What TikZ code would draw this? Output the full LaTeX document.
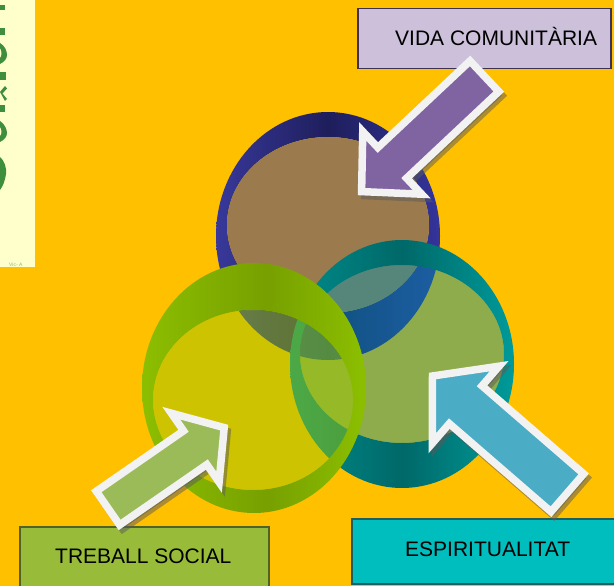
\documentclass[tikz,border=0pt]{standalone}
\usepackage{fontspec}
\setmainfont{Liberation Sans}
\definecolor{bgorange}{HTML}{FFC000}
\definecolor{paleyellow}{HTML}{FFFFCC}
\definecolor{glyphgreen}{HTML}{3E8E3E}
\definecolor{blueL}{HTML}{38389A}
\definecolor{blueD}{HTML}{1E1E5C}
\definecolor{blueR}{HTML}{34349A}
\definecolor{tealL}{HTML}{008C8C}
\definecolor{tealD}{HTML}{006868}
\definecolor{tealR}{HTML}{009A9A}
\definecolor{greenL}{HTML}{8CBE00}
\definecolor{greenD}{HTML}{77A000}
\definecolor{greenR}{HTML}{8CBF00}
\definecolor{browninner}{HTML}{9B7B4E}
\definecolor{tealinner}{HTML}{0094B1}
\definecolor{yellowinner}{HTML}{9DC800}
\definecolor{arrowwhite}{HTML}{F2F2F2}
\definecolor{shadowgrey}{HTML}{5A5A5A}
\definecolor{arrowpurple}{HTML}{8064A2}
\definecolor{arrowgreen}{HTML}{9BBB59}
\definecolor{arrowteal}{HTML}{4BACC6}
\definecolor{vidafill}{HTML}{CCC0DA}
\definecolor{vidaline}{HTML}{3F3151}
\definecolor{trebfill}{HTML}{98BC3A}
\definecolor{trebline}{HTML}{4F6228}
\definecolor{espfill}{HTML}{00BEBE}
\definecolor{espline}{HTML}{205D5D}
\pgfdeclarehorizontalshading{blueband}{100bp}{color(0bp)=(blueL); color(25bp)=(blueL); color(50bp)=(blueD); color(75bp)=(blueR); color(100bp)=(blueR)}
\pgfdeclarehorizontalshading{tealband}{100bp}{color(0bp)=(tealL); color(25bp)=(tealL); color(50bp)=(tealD); color(75bp)=(tealR); color(100bp)=(tealR)}
\pgfdeclarehorizontalshading{greenband}{100bp}{color(0bp)=(greenL); color(25bp)=(greenL); color(53bp)=(greenD); color(75bp)=(greenR); color(100bp)=(greenR)}
% #1,#2 tip (centre line), #3 rotation, #4 shaft half width, #5 head half width, #6 head length, #7 total length, #8 fill colour
\newcommand\BlockArrow[8]{%
  \begin{scope}[shift={(#1+3,#2+4)},rotate=#3]
    \filldraw[arrowshadow] (0,0) -- (-#6,#5) -- (-#6,#4) -- (-#7,#4) -- (-#7,-#4) -- (-#6,-#4) -- (-#6,-#5) -- cycle;
  \end{scope}
  \begin{scope}[shift={(#1,#2)},rotate=#3]
    \filldraw[arrowbody,fill=#8] (0,0) -- (-#6,#5) -- (-#6,#4) -- (-#7,#4) -- (-#7,-#4) -- (-#6,-#4) -- (-#6,-#5) -- cycle;
  \end{scope}}
\begin{document}
\begin{tikzpicture}[x=1pt,y=-1pt,
  arrowbody/.style={draw=arrowwhite, line width=7.5pt, line join=miter},
  arrowshadow/.style={fill=shadowgrey, draw=shadowgrey, line width=7.5pt, line join=miter, opacity=0.5},
  labelbox/.style={rectangle, line width=1.5pt, inner sep=0pt, anchor=north west},
  labeltext/.style={inner sep=0pt, anchor=base west, font=\fontsize{21}{25}\selectfont, text=black}]
\useasboundingbox (0,0) rectangle (614,586);
\fill[bgorange] (0,0) rectangle (614,586);
% pale panel at top left
\fill[paleyellow] (0,0) rectangle (35,267);
\fill[glyphgreen] (0,5) rectangle (5,10);
\fill[glyphgreen] (0,28) rectangle (5,35);
\fill[glyphgreen] (0,43) .. controls (5,46) and (7,51) .. (7,55) .. controls (7,59) and (4,62) .. (0,64) -- (0,58) .. controls (2,57) and (2,50) .. (0,48) -- cycle;
\fill[glyphgreen] (0,72) rectangle (6,80);
\fill[glyphgreen] (0,92) -- (5,86) -- (7,88.5) -- (2.5,93.5) -- (7,99) -- (5,101) -- cycle;
\fill[glyphgreen] (0,105) rectangle (5,112);
\fill[glyphgreen] (0,121) .. controls (5,124) and (7,130) .. (7,133) .. controls (7,137) and (4,140) .. (0,142) -- (0,136) .. controls (2,135) and (2,129) .. (0,127) -- cycle;
\fill[glyphgreen] (0,157) .. controls (4,160) and (7,168) .. (6,174) .. controls (5,181) and (3,186) .. (0,190) -- cycle;
\node[inner sep=0pt, anchor=base west, font=\fontsize{5}{5}\selectfont, text=glyphgreen!60!paleyellow] (tinytext) at (9,266) {Vic- A};
% top ring (blue band, brown face)
\shade[shading=blueband, even odd rule] (328,236) ellipse [x radius=112pt, y radius=124pt] (328,225) ellipse [x radius=101pt, y radius=88pt];
\fill[browninner] (328,225) ellipse [x radius=101pt, y radius=88pt];
% right ring (teal band, translucent face)
\shade[shading=tealband, even odd rule] (402,364) ellipse [x radius=112pt, y radius=124pt] (402,354) ellipse [x radius=102pt, y radius=89pt];
\fill[tealinner, fill opacity=0.44] (402,354) ellipse [x radius=102pt, y radius=89pt];
% left ring (green band, translucent face)
\shade[shading=greenband, even odd rule] (254,388) ellipse [x radius=112pt, y radius=125pt] (253,400) ellipse [x radius=100pt, y radius=90pt];
\fill[yellowinner, fill opacity=0.49] (253,400) ellipse [x radius=100pt, y radius=90pt];
% label boxes
\node[labelbox, fill=vidafill, draw=vidaline, minimum width=253pt, minimum height=60pt] (vidabox) at (357,8) {};
\node[labeltext] (vidatext) at (395,46) {VIDA COMUNITÀRIA};
\node[labelbox, fill=trebfill, draw=trebline, minimum width=249pt, minimum height=70pt] (trebbox) at (19,526) {};
\node[labeltext] (trebtext) at (55,563) {TREBALL SOCIAL};
\node[labelbox, fill=espfill, draw=espline, minimum width=280pt, minimum height=65pt] (espbox) at (351,518) {};
\node[labeltext] (esptext) at (405,556) {ESPIRITUALITAT};
% block arrows
\BlockArrow{361.6}{191.6}{223.2}{21}{43}{42}{168.5}{arrowpurple}
\BlockArrow{224.2}{427.6}{34.7}{20.5}{42}{35.3}{141.4}{arrowgreen}
\BlockArrow{432.5}{376}{139.1}{25}{51}{43.9}{178.4}{arrowteal}
\end{tikzpicture}
\end{document}
